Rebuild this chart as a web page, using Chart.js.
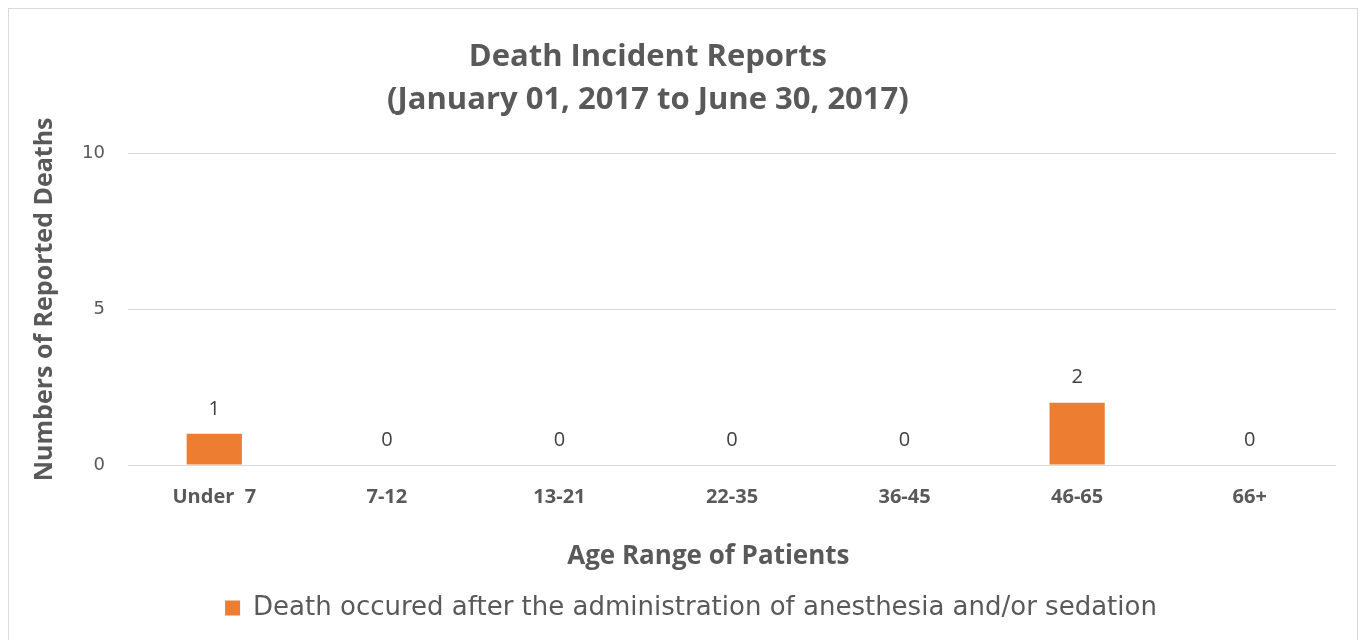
<!DOCTYPE html>
<html>
<head>
<meta charset="utf-8">
<script src="https://cdn.jsdelivr.net/npm/chart.js@4.4.0/dist/chart.umd.min.js"></script>
<style>
  html, body { margin: 0; padding: 0; background: #fff; }
  #frame {
    position: absolute; left: 8px; top: 8px; width: 1348px; height: 660px;
    border: 1px solid #d9d9d9;
  }
  #chart { position: absolute; left: 0; top: 0; }
</style>
</head>
<body>
<div id="frame"></div>
<canvas id="chart" width="1369" height="640"></canvas>
<script>
const ageRanges = ['Under  7', '7-12', '13-21', '22-35', '36-45', '46-65', '66+']
const deaths = [1, 0, 0, 0, 0, 2, 0]
const seriesName = 'Death occured after the administration of anesthesia and/or sedation'
const titleLines = ['Death Incident Reports', '(January 01, 2017 to June 30, 2017)']

const grey = '#595959'

// value labels above each bar
const valueLabels = {
  id: 'valueLabels',
  afterDatasetsDraw (chart) {
    const c = chart.ctx
    const meta = chart.getDatasetMeta(0)
    c.save()
    c.font = '20px "Open Sans"'
    c.fillStyle = '#404040'
    c.textAlign = 'center'
    c.textBaseline = 'middle'
    meta.data.forEach((bar, i) => {
      c.fillText(String(deaths[i]), bar.x, bar.y - 25)
    })
    c.restore()
  }
}

// legend sits a bit right of centre in the original
const nudgeLegend = {
  id: 'nudgeLegend',
  afterLayout (chart) {
    chart.legend.left += 23
    chart.legend.right += 23
  }
}

// the original titles sit a little off centre, trailing spaces nudge them
const pad = (s, n) => s + ' '.repeat(n)

new Chart(document.getElementById('chart'), {
  type: 'bar',
  data: {
    labels: ageRanges,
    datasets: [
      {
        label: seriesName,
        data: deaths,
        backgroundColor: '#ED7D31',
        borderWidth: 0,
        categoryPercentage: 1,
        barPercentage: 0.32
      }
    ]
  },
  plugins: [valueLabels, nudgeLegend],
  options: {
    responsive: false,
    animation: false,
    layout: {
      padding: { left: 0, right: 33, top: 0, bottom: 9 }
    },
    plugins: {
      title: {
        display: true,
        text: titleLines.map(t => pad(t, 5)),
        color: grey,
        font: { family: '"Open Sans"', size: 31, weight: 'bold', lineHeight: 1.39 },
        padding: { top: 36, bottom: 31 }
      },
      legend: {
        position: 'bottom',
        labels: {
          color: grey,
          font: { family: '"DejaVu Sans"', size: 26 },
          boxWidth: 15,
          boxHeight: 15,
          padding: 8
        }
      },
      tooltip: { enabled: false }
    },
    scales: {
      x: {
        grid: { display: false, drawTicks: false },
        border: { display: false },
        ticks: {
          color: grey,
          padding: 20,
          font: { family: '"Open Sans"', size: 20, weight: 'bold' }
        },
        title: {
          display: true,
          text: pad('Age Range of Patients', 7),
          color: grey,
          font: { family: '"Open Sans"', size: 26, weight: 'bold' },
          padding: { top: 15, bottom: 15 }
        },
        afterFit (scale) {
          scale.height = 122
        }
      },
      y: {
        min: 0,
        max: 10,
        grid: { color: '#d9d9d9', drawTicks: false },
        border: { display: false },
        ticks: {
          stepSize: 5,
          color: grey,
          padding: 23,
          font: { family: '"DejaVu Sans"', size: 18 }
        },
        title: {
          display: true,
          text: '   Numbers of Reported Deaths',
          color: grey,
          font: { family: '"Open Sans"', size: 25, weight: 'bold' },
          padding: { top: 30, bottom: 0 }
        },
        afterFit (scale) {
          scale.width = 128
        }
      }
    }
  }
})
</script>
</body>
</html>
